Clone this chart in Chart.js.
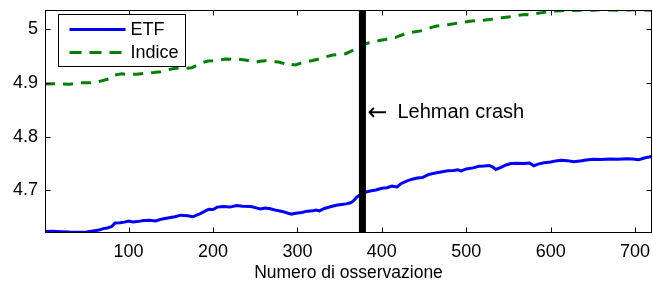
<!DOCTYPE html>
<html><head><meta charset="utf-8">
<script src="https://cdn.jsdelivr.net/npm/chart.js@4.4.1/dist/chart.umd.min.js"></script>
<style>html,body{margin:0;padding:0;background:#fff}</style>
</head><body>
<canvas id="c" width="653" height="287" style="display:block;width:653px;height:287px"></canvas>
<script>
// ---- data ----
const seriesNames = ['ETF', 'Indice'];
const etfObs = [1,10,20,30,40,50,60,65,70,75,80,84,90,95,100,105,110,118,125,132,140,148,155,162,170,176,185,190,195,200,205,212,220,228,235,245,250,256,262,268,275,282,288,293,298,305,312,318,322,326,332,340,346,352,358,363,366,370,374,380,386,393,400,406,412,418,423,430,436,442,448,455,462,470,478,485,490,494,500,508,515,521,527,531,535,541,547,553,560,568,575,580,585,592,600,606,612,620,627,635,642,650,660,670,680,690,697,704,710,715,720];
const etfVal = [4.6235,4.6240,4.6232,4.6225,4.6222,4.6228,4.6250,4.6262,4.6290,4.6300,4.6330,4.6395,4.6400,4.6410,4.6430,4.6415,4.6420,4.6440,4.6445,4.6432,4.6470,4.6490,4.6510,4.6540,4.6530,4.6510,4.6570,4.6610,4.6650,4.6645,4.6690,4.6700,4.6690,4.6718,4.6705,4.6700,4.6680,4.6655,4.6675,4.6660,4.6630,4.6610,4.6580,4.6560,4.6575,4.6590,4.6615,4.6620,4.6635,4.6620,4.6665,4.6700,4.6725,4.6740,4.6750,4.6770,4.6800,4.6870,4.6920,4.6965,4.6990,4.7010,4.7040,4.7050,4.7080,4.7065,4.7130,4.7180,4.7210,4.7230,4.7240,4.7295,4.7320,4.7345,4.7365,4.7370,4.7385,4.7365,4.7400,4.7420,4.7450,4.7455,4.7465,4.7440,4.7390,4.7430,4.7475,4.7500,4.7505,4.7500,4.7510,4.7460,4.7490,4.7515,4.7530,4.7550,4.7560,4.7555,4.7535,4.7550,4.7565,4.7580,4.7575,4.7585,4.7580,4.7590,4.7585,4.7570,4.7600,4.7620,4.7630];
const indObs = [1,15,30,45,60,68,75,80,84,92,100,110,120,130,138,145,152,160,168,175,181,188,194,200,208,215,222,230,238,244,250,256,262,270,278,284,288,293,298,304,310,318,326,334,342,350,357,362,368,373,378,384,390,397,404,410,416,422,430,438,446,452,458,465,472,480,488,496,504,512,520,528,535,542,550,557,564,570,576,582,590,598,606,614,622,630,640,650,660,670,680,690,700,710,720];
const indVal = [4.8980,4.8985,4.8978,4.9005,4.9008,4.9040,4.9070,4.9100,4.9150,4.9170,4.9160,4.9165,4.9180,4.9195,4.9210,4.9240,4.9265,4.9280,4.9275,4.9285,4.9330,4.9380,4.9410,4.9415,4.9430,4.9445,4.9440,4.9445,4.9430,4.9410,4.9385,4.9405,4.9415,4.9400,4.9390,4.9360,4.9325,4.9345,4.9335,4.9370,4.9395,4.9420,4.9450,4.9490,4.9520,4.9530,4.9545,4.9580,4.9630,4.9680,4.9720,4.9745,4.9760,4.9790,4.9810,4.9835,4.9845,4.9885,4.9930,4.9950,4.9970,5.0000,5.0030,5.0060,5.0075,5.0090,5.0110,5.0130,5.0150,5.0160,5.0170,5.0180,5.0200,5.0215,5.0230,5.0245,5.0265,5.0275,5.0265,5.0290,5.0310,5.0330,5.0340,5.0345,5.0355,5.0350,5.0360,5.0355,5.0365,5.0360,5.0355,5.0360,5.0365,5.0360,5.0355];
const xTicks = [100, 200, 300, 400, 500, 600, 700];
const xTickLabels = ['100', '200', '300', '400', '500', '600', '700'];
const yTicks = [4.7, 4.8, 4.9, 5];
const yTickLabels = ['4.7', '4.8', '4.9', '5'];
const xRange = [1, 720];
const yRange = [4.6208, 5.0359];
const lehmanObs = 377;
const lehmanArrow = '\u2190';
const lehmanText = 'Lehman crash';
const lehmanTextY = 4.845;
const xTitle = 'Numero di osservazione';

// ---- chart ----
const FONT = '"Liberation Sans", Arial, Helvetica, sans-serif';
const toPts = (xs, ys) => xs.map((x, i) => ({x: x, y: ys[i]}));

const matlabPlugin = {
  id: 'matlab',
  afterDraw(chart) {
    const ctx = chart.ctx;
    const a = chart.chartArea;
    const xs = chart.scales.x, ys = chart.scales.y;
    const L = Math.round(a.left) + 0.5, R = Math.round(a.right) - 0.5;
    const T = Math.round(a.top) + 0.5, B = Math.round(a.bottom) - 0.5;
    ctx.save();
    // annotation
    const ax = xs.getPixelForValue(lehmanObs), ay = ys.getPixelForValue(lehmanTextY);
    ctx.fillStyle = '#000';
    ctx.textAlign = 'left';
    ctx.textBaseline = 'middle';
    ctx.font = '24px "DejaVu Sans", sans-serif';
    ctx.fillText(lehmanArrow, ax + 5, ay + 1);
    ctx.font = '20px ' + FONT;
    ctx.fillText(lehmanText, ax + 35, ay);
    // x tick labels and title (alphabetic baselines)
    ctx.textAlign = 'center';
    ctx.textBaseline = 'alphabetic';
    ctx.font = '18px ' + FONT;
    xTicks.forEach((v, i) => ctx.fillText(xTickLabels[i], xs.getPixelForValue(v), B + 24));
    ctx.font = '17.5px ' + FONT;
    ctx.fillText(xTitle, (a.left + a.right) / 2, B + 45);
    // box
    ctx.strokeStyle = '#000';
    ctx.lineWidth = 1;
    ctx.strokeRect(L, T, R - L, B - T);
    // inward ticks
    ctx.beginPath();
    xTicks.forEach(v => {
      const p = Math.round(xs.getPixelForValue(v)) + 0.5;
      ctx.moveTo(p, B); ctx.lineTo(p, B - 5);
      ctx.moveTo(p, T); ctx.lineTo(p, T + 5);
    });
    yTicks.forEach(v => {
      const p = Math.round(ys.getPixelForValue(v)) + 0.5;
      ctx.moveTo(L, p); ctx.lineTo(L + 5, p);
      ctx.moveTo(R, p); ctx.lineTo(R - 5, p);
    });
    ctx.stroke();
    // legend
    const lx = L + 13, ly = T + 4, lw = 127, lh = 52;
    ctx.fillStyle = '#fff';
    ctx.fillRect(lx, ly, lw, lh);
    ctx.strokeRect(lx, ly, lw, lh);
    const ds = chart.data.datasets;
    [0, 1].forEach(i => {
      const yy = ly + 15 + i * 23;
      ctx.beginPath();
      ctx.strokeStyle = ds[i].borderColor;
      ctx.lineWidth = ds[i].borderWidth;
      ctx.setLineDash(i === 1 ? [12, 8] : []);
      ctx.moveTo(lx + 11, yy); ctx.lineTo(lx + 67, yy);
      ctx.stroke();
      ctx.setLineDash([]);
      ctx.fillStyle = '#000';
      ctx.font = '18px ' + FONT;
      ctx.textAlign = 'left';
      ctx.textBaseline = 'middle';
      ctx.fillText(ds[i].label, lx + 72, yy + 1);
    });
    ctx.restore();
  }
};

new Chart(document.getElementById('c'), {
  type: 'line',
  data: {
    datasets: [
      {label: seriesNames[0], data: toPts(etfObs, etfVal), borderColor: '#0000ff', borderWidth: 3, pointRadius: 0, fill: false, tension: 0, order: 2},
      {label: seriesNames[1], data: toPts(indObs, indVal), borderColor: '#008000', borderWidth: 3, borderDash: [10, 8], pointRadius: 0, fill: false, tension: 0, order: 3},
      {label: 'Lehman', data: [{x: lehmanObs, y: yRange[0]}, {x: lehmanObs, y: yRange[1]}], borderColor: '#000', borderWidth: 7, pointRadius: 0, fill: false, order: 1}
    ]
  },
  options: {
    responsive: false,
    animation: false,
    devicePixelRatio: 1,
    layout: {padding: {left: 0, right: 1, top: 10, bottom: 0}},
    plugins: {legend: {display: false}, tooltip: {enabled: false}},
    scales: {
      x: {
        type: 'linear', min: xRange[0], max: xRange[1],
        grid: {display: false, drawTicks: false}, border: {display: false},
        afterBuildTicks: s => { s.ticks = xTicks.map(v => ({value: v})); },
        afterFit: s => { s.height = 54; s.paddingLeft = 0; s.paddingRight = 0; },
        ticks: {display: false},
        title: {display: false}
      },
      y: {
        type: 'linear', min: yRange[0], max: yRange[1],
        grid: {display: false, drawTicks: false}, border: {display: false},
        afterBuildTicks: s => { s.ticks = yTicks.map(v => ({value: v})); },
        afterFit: s => { s.width = 45; s.paddingTop = 0; s.paddingBottom = 0; },
        ticks: {color: '#000', font: {family: FONT, size: 18}, padding: 7,
          callback: v => { const i = yTicks.findIndex(t => Math.abs(t - v) < 1e-9); return i >= 0 ? yTickLabels[i] : ''; }}
      }
    }
  },
  plugins: [matlabPlugin]
});
</script>
</body></html>
